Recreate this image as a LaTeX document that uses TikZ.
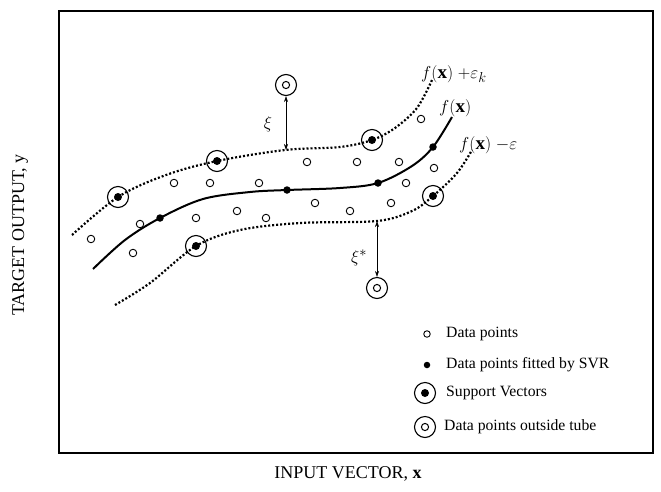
\documentclass[tikz,border=0pt]{standalone}
\usepackage{fontspec}
\setmainfont{Liberation Serif}
\usetikzlibrary{arrows.meta}
\begin{document}
\begin{tikzpicture}[x=1pt,y=-1pt,
  dat/.style={circle,draw,line width=0.9pt,minimum size=7.5pt,inner sep=0pt},
  fitd/.style={circle,fill,minimum size=7.5pt,inner sep=0pt},
  sv/.style={circle,draw,line width=1.1pt,minimum size=21pt,inner sep=0pt,
    path picture={\fill (path picture bounding box.center) circle (4pt);}},
  outl/.style={circle,draw,line width=1.1pt,minimum size=21pt,inner sep=0pt,
    path picture={\draw[line width=1pt] (path picture bounding box.center) circle (3.6pt);}},
  tube/.style={line width=2.2pt,dash pattern=on 2pt off 2pt},
  fcurve/.style={line width=2pt},
  dim/.style={line width=0.6pt,{Stealth[length=6pt,width=4pt]}-{Stealth[length=6pt,width=4pt]}},
  lbl/.style={font=\fontsize{19}{22}\selectfont,inner sep=0pt},
  txt/.style={font=\fontsize{15.7}{18}\selectfont,inner sep=0pt,anchor=west},
  axl/.style={font=\fontsize{18}{21}\selectfont,inner sep=0pt}]
\useasboundingbox (0,0) rectangle (661,491);
\draw[line width=2pt] (59,11) rectangle (653,453);

% tube and regression curve
\draw[tube] plot[smooth,tension=0.55] coordinates
  {(72,235) (118,197) (166,175) (217,161) (285,150) (340,147) (372,140) (395,128) (417,108) (432,80)};
\draw[fcurve] plot[smooth,tension=0.55] coordinates
  {(93,269) (125,240) (160,218) (203,199) (250,192) (287,190) (340,188) (378,183) (412,166) (433,147) (452,117)};
\draw[tube] plot[smooth,tension=0.55] coordinates
  {(115,305) (150,283) (196,246) (240,230) (300,223) (377,221) (412,211) (433,196) (457,173) (472,150)};

% data points
\foreach \p [count=\i] in {(91,239),(140,224),(133,253),(174,183),(210,183),(259,183),
  (196,218),(237,211),(266,218),(315,203),(350,211),(391,203),(406,183),(434,168),
  (307,162),(357,162),(399,162),(421,119)}
  \node[dat] (d\i) at \p {};
% fitted points
\node[fitd] (f1) at (160,218) {};
\node[fitd] (f2) at (287,190) {};
\node[fitd] (f3) at (378,183) {};
\node[fitd] (f4) at (433,147) {};
% support vectors
\node[sv] (s1) at (118,197) {};
\node[sv] (s2) at (217,161) {};
\node[sv] (s3) at (372,140) {};
\node[sv] (s4) at (196,246) {};
\node[sv] (s5) at (433,196) {};
% outside tube
\node[outl] (o1) at (286,85) {};
\node[outl] (o2) at (377,288) {};
\coordinate (xa) at (286,150);
\coordinate (xb) at (377,221);
\draw[dim] (xa) -- (o1);
\draw[dim] (xb) -- (o2);
\node[lbl] (xil) at (268,124) {$\xi$};
\node[lbl] (xisl) at (359,258) {$\xi^{*}$};

% curve labels
\node[lbl,anchor=west] (lu) at (421,74) {$f(\mathbf{x})\;{+}\varepsilon_{k}$};
\node[lbl,anchor=west] (lm) at (439,108) {$f(\mathbf{x})$};
\node[lbl,anchor=west] (ll) at (459,145) {$f(\mathbf{x})\;{-}\varepsilon$};

% legend
\node[dat,minimum size=6.5pt] (k1) at (427,334) {};
\node[txt] (t1) at (446,334) {Data points};
\node[fitd,minimum size=6.5pt] (k2) at (427,365) {};
\node[txt] (t2) at (446,365) {Data points fitted by SVR};
\node[sv] (k3) at (425,393) {};
\node[txt] (t3) at (446,393) {Support Vectors};
\node[outl] (k4) at (425,427) {};
\node[txt] (t4) at (444,427) {Data points outside tube};

% axis labels
\node[axl] (ax) at (348,474) {INPUT VECTOR, \textbf{x}};
\node[axl,rotate=90] (ay) at (20,235) {TARGET OUTPUT, y};
\end{tikzpicture}
\end{document}
